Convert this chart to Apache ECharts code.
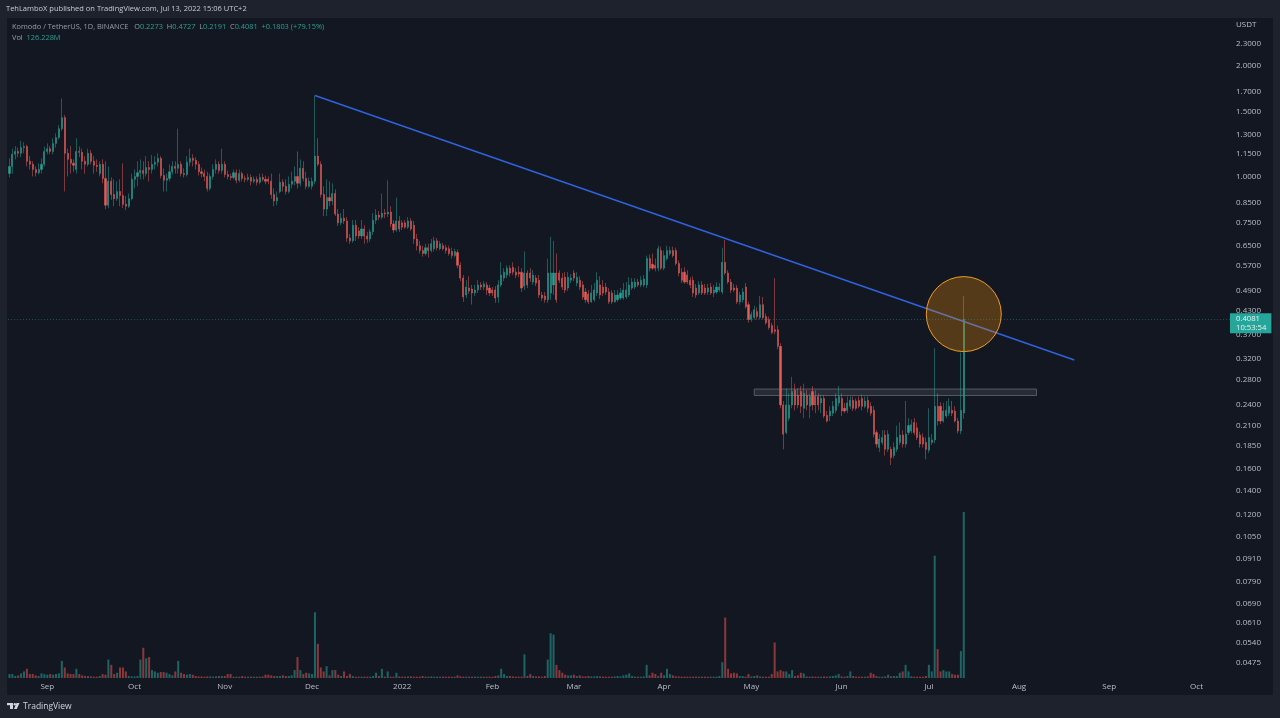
<!DOCTYPE html>
<html>
<head>
<meta charset="UTF-8">
<title>Komodo / TetherUS</title>
<script src="https://cdn.jsdelivr.net/npm/echarts@6/dist/echarts.min.js"></script>
<style>
  html, body { margin: 0; padding: 0; background: #1e222d; }
  #chart { width: 1280px; height: 718px; }
</style>
</head>
<body>
<div id="chart"></div>
<script type="text/javascript">

var priceTicks = [2.3, 2.0, 1.7, 1.5, 1.3, 1.15, 1.0, 0.85, 0.75, 0.65, 0.57, 0.49, 0.43, 0.37, 0.32, 0.28, 0.24, 0.21, 0.185, 0.16, 0.14, 0.12, 0.105, 0.091, 0.079, 0.069, 0.061, 0.054, 0.0475];
var monthNames = ['2022', 'Feb', 'Mar', 'Apr', 'May', 'Jun', 'Jul', 'Aug', 'Sep', 'Oct', 'Nov', 'Dec'];

var opens = [
  1.018,1.065,1.149,1.17,1.156,1.198,1.206,1.10,1.079,1.045,
  1.024,1.045,1.079,1.17,1.19,1.17,1.23,1.276,1.349,1.446,
  1.156,1.113,1.086,1.045,1.17,1.163,1.10,1.079,1.156,1.10,
  1.072,1.018,1.079,.988,.835,.97,.893,.87,.91,.887,
  .84,.83,.87,.982,1.00,1.024,1.038,1.018,1.058,1.045,
  1.079,1.093,1.12,1.006,.976,.988,1.03,1.065,1.052,1.079,
  1.018,1.012,1.093,1.12,1.106,1.079,1.03,1.018,1.00,.928,
  1.00,1.045,1.079,1.038,1.079,1.012,1.00,.994,1.024,.976,
  1.018,.988,.982,.994,.97,.982,.964,.994,.982,.982,
  .97,.893,.858,.91,.964,.94,.91,.952,.97,1.00,
  .958,1.052,.988,.94,.94,.97,1.136,1.079,.893,.815,
  .876,.858,.899,.79,.748,.77,.757,.68,.668,.737,
  .711,.689,.72,.689,.676,.707,.76,.785,.775,.795,
  .79,.80,.743,.715,.757,.748,.748,.728,.757,.737,
  .676,.648,.629,.617,.64,.629,.636,.668,.636,.648,
  .64,.636,.625,.609,.621,.573,.529,.476,.497,.494,
  .482,.491,.507,.50,.507,.497,.491,.491,.47,.507,
  .529,.539,.563,.566,.549,.549,.549,.503,.546,.546,
  .516,.529,.522,.476,.473,.462,.482,.507,.546,.546,
  .529,.532,.497,.522,.546,.513,.522,.507,.485,.479,
  .456,.462,.482,.507,.50,.50,.485,.482,.456,.462,
  .467,.467,.47,.476,.497,.50,.516,.507,.507,.507,
  .598,.577,.573,.563,.629,.563,.598,.617,.629,.629,
  .58,.549,.549,.539,.522,.522,.497,.482,.507,.497,
  .485,.50,.482,.485,.491,.485,.584,.546,.516,.497,
  .497,.456,.462,.50,.448,.408,.413,.429,.413,.448,
  .416,.408,.393,.383,.383,.345,.239,.201,.22,.239,
  .262,.254,.26,.234,.254,.237,.26,.252,.252,.242,
  .249,.224,.223,.227,.231,.242,.249,.234,.231,.237,
  .246,.245,.246,.249,.237,.246,.237,.231,.201,.183,
  .189,.198,.181,.181,.174,.181,.189,.198,.187,.201,
  .203,.214,.207,.198,.195,.189,.18,.189,.192,.237,
  .237,.216,.223,.227,.231,.23,.216,.203,.2273
];

var highs = [
  1.12,1.19,1.21,1.198,1.25,1.24,1.22,1.136,1.10,1.065,
  1.086,1.12,1.206,1.23,1.21,1.27,1.31,1.38,1.63,1.47,
  1.19,1.21,1.113,1.27,1.206,1.19,1.136,1.19,1.18,1.136,
  1.113,1.10,1.113,1.10,1.065,.994,.982,.97,.982,1.086,
  .885,.899,1.018,1.045,1.10,1.113,1.10,1.136,1.10,1.143,
  1.136,1.156,1.136,1.052,1.018,1.079,1.10,1.10,1.349,1.10,
  1.052,1.136,1.19,1.149,1.128,1.10,1.058,1.045,1.03,1.018,
  1.079,1.113,1.10,1.19,1.10,1.038,1.018,1.045,1.045,1.045,
  1.03,1.006,1.018,1.012,1.00,1.00,1.018,1.018,1.006,1.00,
  1.018,.928,.91,1.018,.982,.982,1.00,1.03,1.065,1.17,
  1.113,1.10,1.03,.994,.994,1.66,1.27,1.10,.94,.982,
  .97,.958,.922,.815,.795,.815,.775,.698,.761,.761,
  .728,.761,.737,.707,.72,.795,.815,.805,.899,.815,
  .976,.83,.761,.876,.78,.761,.761,.775,.77,.757,
  .698,.668,.648,.656,.656,.676,.685,.68,.668,.66,
  .652,.648,.64,.636,.633,.584,.539,.522,.535,.507,
  .507,.522,.516,.519,.516,.507,.50,.503,.522,.584,
  .563,.573,.573,.584,.563,.57,.563,.625,.556,.563,
  .556,.539,.539,.485,.485,.598,.685,.668,.617,.556,
  .546,.549,.549,.543,.556,.549,.535,.519,.497,.491,
  .507,.513,.549,.535,.522,.513,.497,.491,.491,.491,
  .497,.513,.516,.532,.529,.529,.526,.535,.539,.609,
  .613,.617,.598,.648,.644,.629,.648,.644,.644,.64,
  .591,.563,.566,.556,.532,.535,.51,.519,.519,.51,
  .51,.513,.507,.516,.513,.64,.672,.556,.526,.51,
  .507,.485,.497,.513,.456,.429,.445,.44,.473,.47,
  .424,.416,.40,.529,.393,.352,.245,.265,.257,.285,
  .273,.265,.269,.273,.262,.257,.269,.262,.257,.255,
  .254,.23,.237,.245,.257,.269,.257,.242,.252,.252,
  .252,.249,.252,.255,.252,.252,.243,.237,.204,.199,
  .204,.204,.204,.184,.189,.21,.214,.204,.245,.22,
  .218,.22,.214,.202,.20,.195,.234,.199,.341,.257,
  .243,.242,.245,.249,.245,.237,.22,.332,.4727
];

var lows = [
  .994,1.018,1.113,1.128,1.128,1.156,1.065,1.045,1.00,1.00,
  1.012,1.018,1.065,1.149,1.149,1.149,1.198,1.26,1.33,.91,
  1.00,1.018,1.03,1.018,1.128,1.045,1.018,1.065,1.079,1.018,
  1.03,1.00,.958,.815,.82,.864,.83,.858,.83,.82,
  .81,.82,.861,.928,.94,.982,.982,1.00,.97,1.018,
  1.045,1.065,.988,.91,.91,.97,1.012,1.018,1.018,1.00,
  .994,1.00,1.065,1.065,1.045,1.006,.994,.97,.91,.916,
  .982,1.018,1.018,1.018,.994,.982,.976,.982,.958,.964,
  .97,.964,.97,.946,.958,.946,.952,.97,.952,.952,
  .87,.83,.835,.899,.91,.893,.899,.928,.946,.928,
  .94,.97,.922,.928,.922,.952,1.065,.876,.78,.78,
  .83,.836,.78,.733,.737,.743,.664,.656,.66,.668,
  .676,.676,.656,.66,.664,.693,.743,.76,.765,.77,
  .775,.728,.702,.707,.707,.715,.72,.72,.711,.656,
  .629,.617,.605,.609,.602,.621,.625,.629,.629,.629,
  .617,.609,.598,.602,.563,.519,.456,.467,.479,.448,
  .473,.482,.491,.491,.476,.473,.473,.453,.453,.50,
  .519,.529,.535,.539,.529,.532,.485,.491,.497,.516,
  .507,.503,.467,.459,.453,.453,.462,.476,.453,.513,
  .491,.482,.488,.513,.519,.503,.491,.462,.453,.45,
  .453,.456,.473,.464,.473,.476,.45,.45,.453,.456,
  .462,.462,.464,.47,.491,.494,.50,.50,.50,.497,
  .552,.556,.552,.552,.556,.556,.591,.609,.602,.573,
  .535,.513,.51,.51,.497,.47,.467,.476,.476,.476,
  .476,.476,.47,.479,.485,.479,.539,.51,.482,.485,
  .45,.448,.453,.437,.40,.402,.408,.408,.408,.408,
  .395,.383,.372,.372,.339,.234,.181,.199,.216,.234,
  .231,.234,.227,.22,.231,.22,.231,.227,.231,.227,
  .22,.214,.216,.223,.227,.237,.223,.227,.227,.233,
  .23,.231,.234,.231,.234,.228,.223,.195,.183,.178,
  .186,.174,.178,.164,.171,.178,.186,.183,.183,.198,
  .20,.198,.192,.183,.183,.17,.177,.186,.188,.21,
  .212,.214,.22,.223,.223,.214,.20,.199,.2191
];

var closes = [
  1.065,1.149,1.17,1.156,1.198,1.206,1.10,1.079,1.045,1.024,
  1.045,1.079,1.17,1.19,1.17,1.23,1.276,1.349,1.446,1.156,
  1.113,1.086,1.072,1.17,1.163,1.10,1.079,1.156,1.10,1.072,
  1.065,1.079,.988,.835,.97,.893,.87,.91,.887,.84,
  .83,.87,.982,1.00,1.024,1.038,1.018,1.058,1.045,1.079,
  1.093,1.12,1.006,.976,.988,1.03,1.065,1.052,1.079,1.018,
  1.012,1.093,1.12,1.106,1.079,1.03,1.018,1.00,.928,1.00,
  1.045,1.079,1.038,1.079,1.012,1.00,.994,1.024,.976,1.018,
  .988,.982,.994,.97,.982,.964,.994,.982,.97,.97,
  .893,.858,.876,.964,.94,.91,.952,.97,1.00,.958,
  1.052,.988,.94,.97,.97,1.136,1.079,.893,.815,.876,
  .858,.899,.79,.748,.77,.757,.68,.668,.737,.689,
  .689,.72,.689,.676,.707,.76,.785,.775,.795,.79,
  .80,.743,.715,.757,.72,.728,.728,.757,.72,.676,
  .648,.629,.617,.64,.629,.656,.668,.64,.656,.636,
  .629,.617,.609,.625,.573,.529,.47,.50,.488,.482,
  .491,.507,.50,.51,.491,.482,.482,.467,.507,.539,
  .549,.563,.546,.549,.539,.543,.497,.546,.507,.529,
  .539,.513,.476,.467,.462,.546,.546,.546,.462,.522,
  .50,.491,.532,.529,.529,.532,.50,.47,.462,.456,
  .482,.491,.522,.476,.482,.485,.456,.456,.476,.476,
  .482,.491,.491,.507,.516,.516,.507,.522,.526,.598,
  .563,.563,.563,.636,.563,.609,.629,.629,.609,.58,
  .546,.522,.516,.516,.507,.482,.476,.507,.482,.482,
  .497,.482,.491,.50,.50,.584,.546,.516,.491,.491,
  .456,.476,.485,.442,.408,.421,.434,.416,.448,.413,
  .40,.388,.376,.379,.345,.239,.199,.239,.239,.26,
  .239,.239,.237,.257,.239,.252,.239,.239,.239,.249,
  .223,.216,.23,.237,.249,.252,.23,.23,.242,.246,
  .234,.234,.237,.237,.245,.234,.227,.199,.187,.193,
  .195,.181,.199,.172,.183,.195,.198,.187,.199,.21,
  .211,.201,.195,.187,.187,.181,.195,.192,.237,.216,
  .216,.23,.231,.237,.227,.216,.203,.231,.4081
];

// volume in millions
var volumes = [
  3,3,1.5,2,3.5,5,7,3,3,2,
  1.5,3.5,3,2.5,3,2.5,3,3.5,13,8,
  3.5,3,3,7,3,2,1.5,1.5,1.2,1,
  1,1.5,3,2.5,14,10,3,4,8,8,
  5,1.5,1.2,1.2,1.5,14,23,15,16,6,
  5,4,4.5,4.5,4,3,2,5,13,4,
  3,2.5,3,2.5,1.5,1.2,1.2,1,1.2,1.2,
  1,1.3,1.5,1.5,1.5,3,3,1,1,1,
  1.5,1,1,1,1,1,1,1.2,2.5,2.5,
  2,1.5,1.5,1.5,2,1.5,1.5,2,6,16,
  6,3,4,3.5,3,50,26,8,5,9,
  2,6,6,2.5,1.5,5,1.5,3,1.5,1,
  1,1,1,1,1,1.5,4,1.5,7,1,
  5,1,1,4,1.2,1,1,1.2,1.3,1,
  1,1,1.5,1,1,1.2,1,1,1,1,
  1,1,1,1,2,1.3,1,1,1,1,
  1,1,1,1,1,1,1,1.5,2,7,
  3,1.5,1.5,1.2,1,1,1,18,1.5,3,
  1.5,1.2,1.2,1,1.5,14,34,33,10,6,
  4,2.5,2,2,2.5,1.5,2,1.2,1.2,1.5,
  1.2,1.2,1.5,1.2,1,1,1,1,1.2,1.5,
  1.2,2,2.5,3.5,1.5,1,1,1,1.2,10,
  2,4,3,1.5,4,2,7,3,2,1.3,
  1.2,1,1,1,1,1,1,1,1,1,
  1,1,1,1,1.5,12,46,7,3.5,4,
  3.5,1.5,1.5,1,3,1.2,1.5,2,1.2,1,
  1,1,3,27,5,6,5,5,3,6,
  1.5,2,4,3.5,1.2,1,1.2,1,1,1,
  1.2,1,1.2,1.5,2,3,1.2,1,1.5,5,
  1.5,1,1,1,1,1.2,4,3,1.5,1,
  1,1.2,2.5,1.3,1.5,1.5,4,5,10,5,
  1.3,1,1,1,1,1.5,10,5,93,22,
  5,6,5,5,3,2.5,2.5,20.5,126.228
];

var lastPrice = 0.4081;
var trendStart = [105, 1.66];
var trendEnd = [366, 0.3168];
var zoneFrom = [256, 0.264];
var zoneTo = [353, 0.2535];
var circleAt = [328, 0.4222];

var upColor = '#2aa093', downColor = '#e85c58';
var textColor = '#bcbfc8';
var fontName = '"Open Sans", sans-serif';

// one slot per day, 19 Aug 2021 up to the right edge of the pane
var days = [], firstDay = Date.UTC(2021, 7, 19);
for (var d = 0; d < 420; d++) {
  days.push(new Date(firstDay + d * 86400000));
}
var candleData = opens.map(function (o, i) {
  return [o, closes[i], lows[i], highs[i]];
});
var volumeData = volumes.map(function (v, i) {
  return {
    value: v,
    itemStyle: { color: closes[i] >= opens[i] ? 'rgba(38,166,154,0.55)' : 'rgba(239,83,80,0.55)' }
  };
});

var myChart = echarts.init(document.getElementById('chart'), null, { renderer: 'canvas' });

var option = {
  animation: false,
  backgroundColor: '#1e222d',
  textStyle: { fontFamily: fontName },
  title: [
    {
      left: 6, top: 5, padding: 0,
      text: 'TehLamboX published on TradingView.com, Jul 13, 2022 15:06 UTC+2',
      textStyle: { color: '#c8cbd4', fontSize: 7.5, fontWeight: 'normal', fontFamily: fontName }
    },
    {
      left: 12, top: 23, padding: 0,
      text: 'Komodo / TetherUS, 1D, BINANCE   O{v|0.2273}  H{v|0.4727}  L{v|0.2191}  C{v|0.4081}  {v|+0.1803 (+79.15%)}',
      textStyle: {
        color: '#9a9daa', fontSize: 7.4, fontWeight: 'normal', fontFamily: fontName,
        rich: { v: { color: upColor, fontSize: 7.4, fontFamily: fontName } }
      }
    },
    {
      left: 12, top: 34, padding: 0,
      text: 'Vol  {v|126.228M}',
      textStyle: {
        color: '#9a9daa', fontSize: 7.4, fontWeight: 'normal', fontFamily: fontName,
        rich: { v: { color: upColor, fontSize: 7.4, fontFamily: fontName } }
      }
    },
    {
      left: 1236, top: 21, padding: 0,
      text: 'USDT',
      textStyle: { color: textColor, fontSize: 8, fontWeight: 'normal', fontFamily: fontName }
    },
    {
      left: 23, top: 702, padding: 0,
      text: 'TradingView',
      textStyle: { color: '#d1d4dc', fontSize: 8.5, fontWeight: 'normal', fontFamily: fontName }
    }
  ],
  grid: [
    { left: 8, right: 50, top: 18.5, bottom: 24.5 },
    { left: 8, right: 50, top: 512, bottom: 40 }
  ],
  xAxis: [
    { type: 'category', gridIndex: 0, data: days, show: false },
    {
      type: 'category', gridIndex: 1, data: days,
      axisLine: { show: false },
      axisTick: { show: false },
      splitLine: { show: false },
      axisLabel: {
        color: textColor, fontSize: 8, margin: 5, fontFamily: fontName, hideOverlap: false,
        interval: function (index) { return days[index].getUTCDate() === 1; },
        formatter: function (value, index) { return monthNames[days[index].getUTCMonth()]; }
      }
    }
  ],
  yAxis: [
    {
      type: 'log', gridIndex: 0, position: 'right',
      min: 0.0392, max: 2.69, logBase: 10,
      axisLine: { show: false },
      axisTick: { show: false },
      splitLine: { show: false },
      minorTick: { show: false },
      axisLabel: {
        color: textColor, fontSize: 8, margin: 6, fontFamily: fontName,
        customValues: priceTicks,
        formatter: function (value) { return Number(value).toFixed(4); }
      }
    },
    { type: 'value', gridIndex: 1, min: 0, max: 126.228, show: false }
  ],
  series: [
    {
      name: 'Vol', type: 'bar', xAxisIndex: 1, yAxisIndex: 1, barWidth: 2,
      data: volumeData, silent: true
    },
    {
      name: 'KMD', type: 'candlestick', xAxisIndex: 0, yAxisIndex: 0, barWidth: 1.6,
      data: candleData,
      itemStyle: { color: upColor, color0: downColor, borderColor: upColor, borderColor0: downColor, borderWidth: 0.5 },
      markLine: {
        silent: true, symbol: 'none', animation: false, z: 20,
        lineStyle: { color: 'rgba(38,166,154,0.4)', type: [1, 2], width: 1 },
        label: {
          show: true, position: 'end', distance: 0, offset: [0, 4.5],
          formatter: '0.4081\n10:53:54',
          color: '#e8f5f3', backgroundColor: '#26a69a', fontSize: 7.7, lineHeight: 9,
          padding: [1, 5, 1, 6], align: 'left', fontFamily: fontName
        },
        data: [{ yAxis: lastPrice }]
      },
      markArea: {
        silent: true,
        itemStyle: { color: 'rgba(120,123,134,0.2)', borderColor: '#565963', borderWidth: 1 },
        data: [[
          { coord: zoneFrom },
          { coord: zoneTo }
        ]]
      }
    },
    {
      name: 'Trend', type: 'line', xAxisIndex: 0, yAxisIndex: 0, z: 5,
      data: [trendStart, trendEnd], symbol: 'none', silent: true,
      lineStyle: { color: '#2f62dd', width: 1.5 }
    },
    {
      name: 'Mark', type: 'scatter', xAxisIndex: 0, yAxisIndex: 0, z: 6,
      data: [circleAt], symbol: 'circle', symbolSize: 75, silent: true,
      itemStyle: { color: 'rgba(255,152,0,0.28)', borderColor: '#ef9c2a', borderWidth: 1, opacity: 1 }
    }
  ],
  graphic: [
    // chart pane
    { type: 'rect', z: -10, silent: true, shape: { x: 7, y: 18, width: 1266, height: 677 }, style: { fill: '#131722' } },
    // TradingView logo
    { type: 'rect', silent: true, shape: { x: 7, y: 703, width: 6, height: 2.2 }, style: { fill: '#d1d4dc' } },
    { type: 'rect', silent: true, shape: { x: 10, y: 703, width: 3, height: 6 }, style: { fill: '#d1d4dc' } },
    { type: 'circle', silent: true, shape: { cx: 14.8, cy: 704.2, r: 1.2 }, style: { fill: '#d1d4dc' } },
    { type: 'polygon', silent: true, shape: { points: [[16.5, 703], [19.5, 703], [16.8, 709], [14, 709]] }, style: { fill: '#d1d4dc' } }
  ]
};

myChart.setOption(option);

</script>
</body>
</html>
